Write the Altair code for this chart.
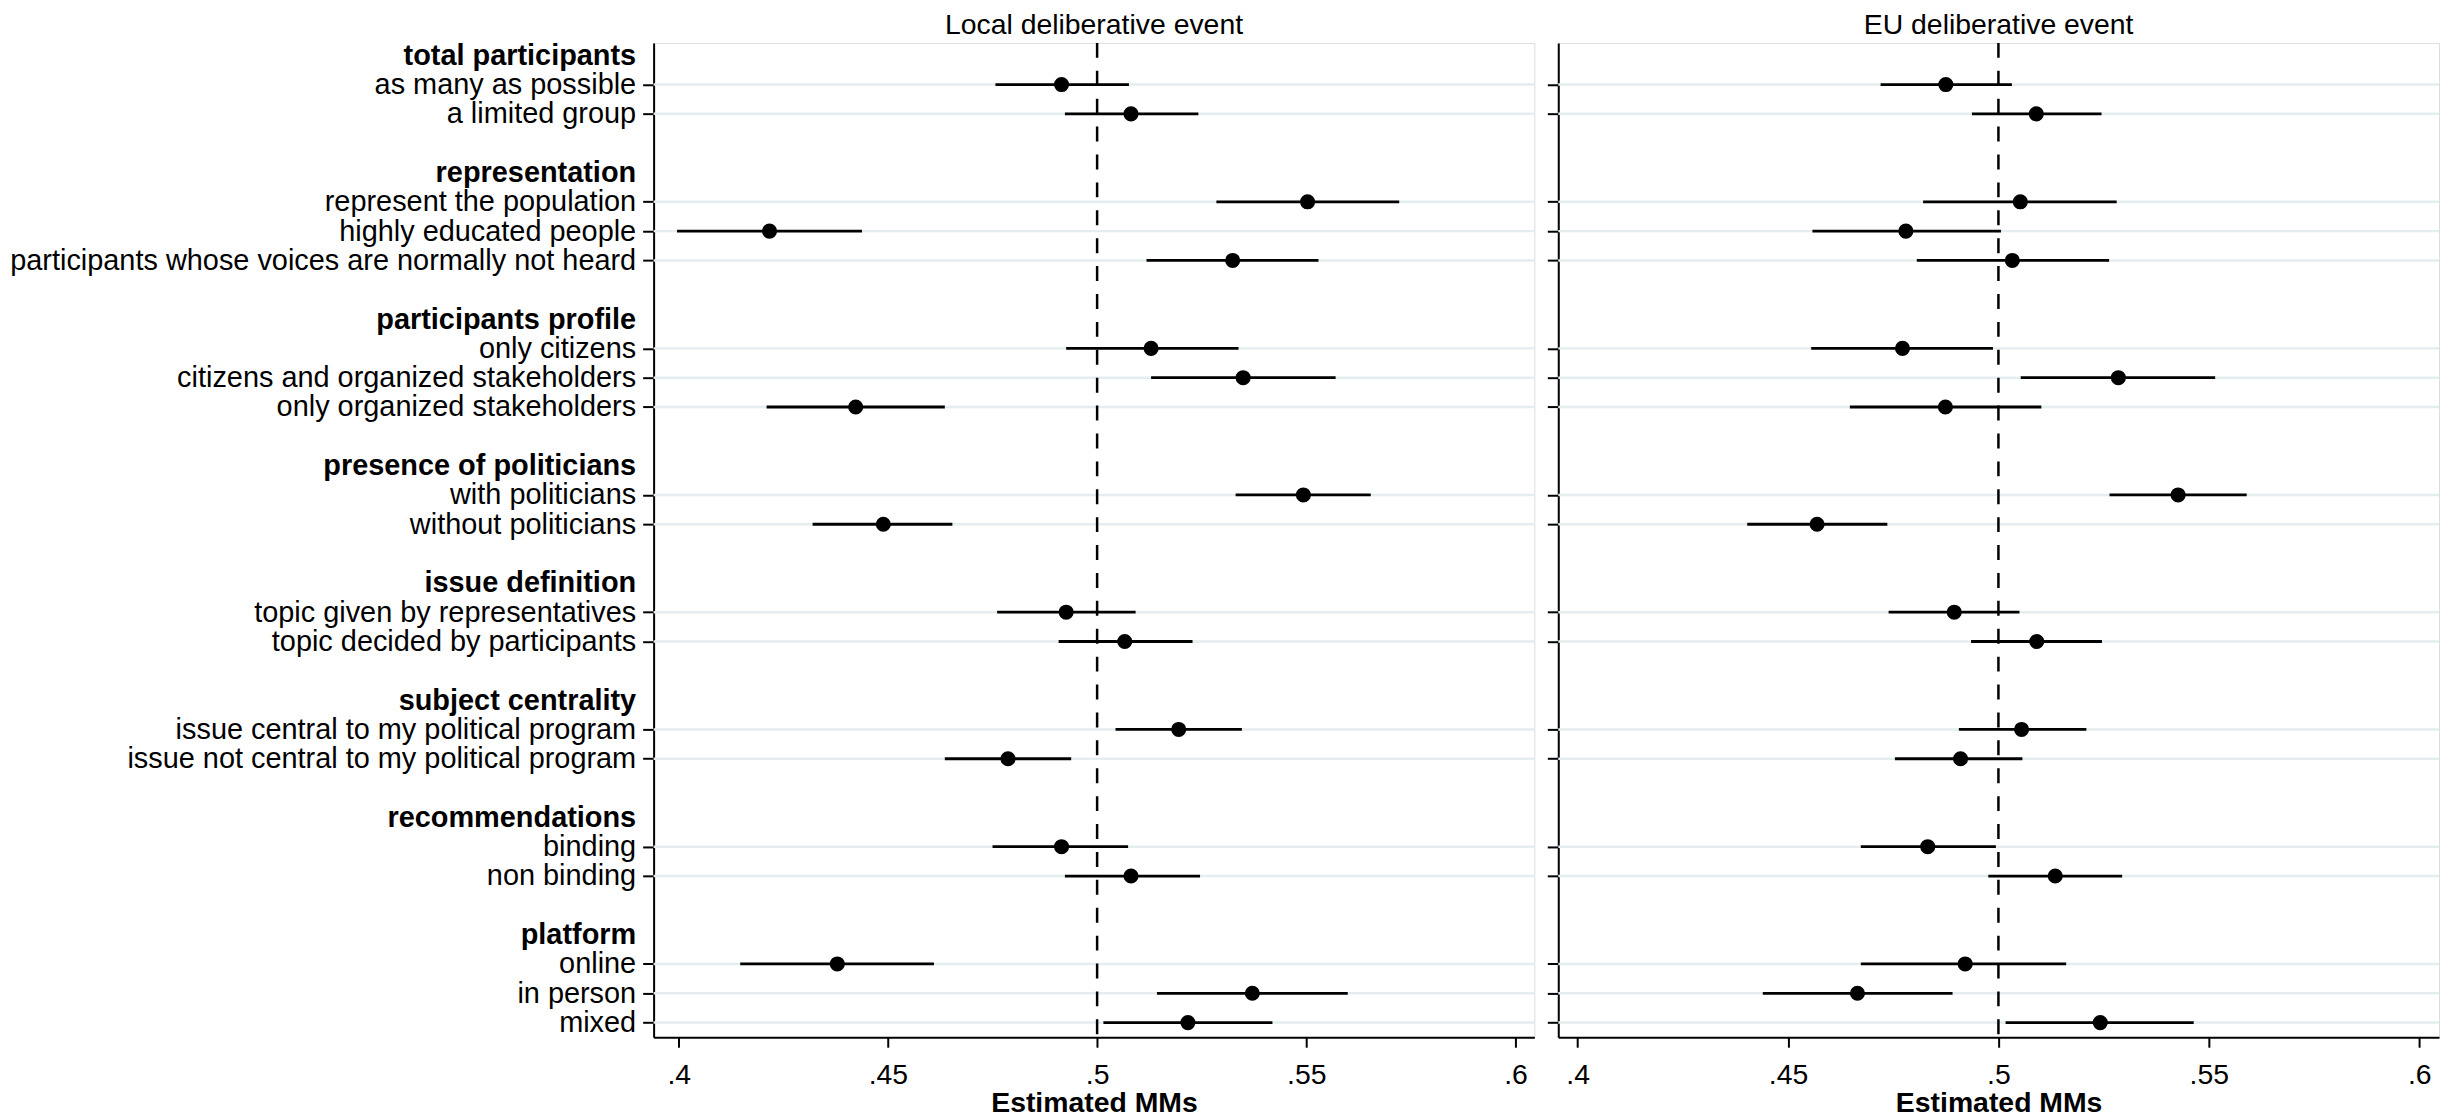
import json
import altair as alt
import pandas as pd

# ---------------- data ----------------
attributes = ["total participants", "representation", "participants profile",
              "presence of politicians", "issue definition", "subject centrality",
              "recommendations", "platform"]
levels = [
    ["as many as possible", "a limited group"],
    ["represent the population", "highly educated people",
     "participants whose voices are normally not heard"],
    ["only citizens", "citizens and organized stakeholders", "only organized stakeholders"],
    ["with politicians", "without politicians"],
    ["topic given by representatives", "topic decided by participants"],
    ["issue central to my political program", "issue not central to my political program"],
    ["binding", "non binding"],
    ["online", "in person", "mixed"],
]

local_mm = [0.4915, 0.5081, 0.5503, 0.4217, 0.5324, 0.5129, 0.5349, 0.4423, 0.5493, 0.4489,
            0.4926, 0.5066, 0.5195, 0.4787, 0.4915, 0.5081, 0.4379, 0.5371, 0.5217]
local_lo = [0.4757, 0.4923, 0.5285, 0.3996, 0.5118, 0.4926, 0.5129, 0.4210, 0.5331, 0.4320,
            0.4761, 0.4908, 0.5044, 0.4636, 0.4750, 0.4923, 0.4147, 0.5143, 0.5015]
local_hi = [0.5076, 0.5242, 0.5722, 0.4438, 0.5529, 0.5338, 0.5570, 0.4636, 0.5654, 0.4654,
            0.5092, 0.5228, 0.5346, 0.4938, 0.5074, 0.5246, 0.4610, 0.5599, 0.5419]

eu_mm = [0.4875, 0.5090, 0.5052, 0.4780, 0.5033, 0.4772, 0.5285, 0.4874, 0.5427, 0.4569,
         0.4895, 0.5091, 0.5055, 0.4910, 0.4832, 0.5135, 0.4921, 0.4665, 0.5242]
eu_lo = [0.4720, 0.4937, 0.4821, 0.4558, 0.4806, 0.4555, 0.5053, 0.4647, 0.5264, 0.4403,
         0.4739, 0.4935, 0.4906, 0.4754, 0.4673, 0.4976, 0.4673, 0.4440, 0.5017]
eu_hi = [0.5032, 0.5245, 0.5281, 0.5006, 0.5263, 0.4987, 0.5515, 0.5102, 0.5590, 0.4736,
         0.5050, 0.5246, 0.5209, 0.5057, 0.4994, 0.5294, 0.5161, 0.4891, 0.5464]

x_ticks = [0.4, 0.45, 0.5, 0.55, 0.6]

# ------------- row layout (headers, levels, spacers) -------------
row_labels, header_rows, level_rows = [], [], []
for g, (att, levs) in enumerate(zip(attributes, levels)):
    if g > 0:
        row_labels.append("")
    header_rows.append(len(row_labels))
    row_labels.append(att)
    for lv in levs:
        level_rows.append(len(row_labels))
        row_labels.append(lv)

axis_values = sorted(header_rows + level_rows)
label_expr = json.dumps(row_labels) + "[datum.value]"
hdr_test = "indexof(" + json.dumps(header_rows) + ", datum.value) >= 0"

FONT = "Liberation Sans"
FS = 28.5

grid_df = pd.DataFrame({"row": level_rows})
ref_df = pd.DataFrame({"x": [0.5]})


def panel(title, mm, lo, hi, show_labels, xdom):
    df = pd.DataFrame({"row": level_rows, "mm": mm, "lo": lo, "hi": hi})
    yscale = alt.Scale(domain=[-0.42, 33.5], reverse=True, nice=False, zero=False)
    yaxis = alt.Axis(
        values=axis_values, labelExpr=label_expr, labels=show_labels,
        labelFont=FONT, labelFontSize=29, labelColor="black", labelLimit=0,
        labelFontWeight={"condition": {"test": hdr_test, "value": "bold"}, "value": "normal"},
        tickOpacity={"condition": {"test": hdr_test, "value": 0}, "value": 1},
        labelPadding=7, tickSize=11, tickWidth=2, tickColor="black",
        domainColor="black", domainWidth=2, grid=False, title=None,
    )
    xscale = alt.Scale(domain=xdom, nice=False, zero=False)
    xaxis = alt.Axis(
        values=x_ticks, labelExpr="substring(format(datum.value, '.2~f'), 1)",
        labelFont=FONT, labelFontSize=FS, labelColor="black", labelPadding=13,
        labelOverlap=False, labelFlush=False,
        tickSize=10, tickWidth=2, tickColor="black",
        domainColor="black", domainWidth=2, grid=False,
        titleFont=FONT, titleFontSize=FS, titleFontWeight="bold", titleColor="black",
        titlePadding=0,
    )

    def Y():
        return alt.Y("row:Q", scale=yscale, axis=yaxis)

    def X(field):
        return alt.X(field, type="quantitative", scale=xscale, axis=xaxis, title="Estimated MMs")

    grid = alt.Chart(grid_df).mark_rule(color="#e4edef", strokeWidth=2.5).encode(y=Y())
    ref = alt.Chart(ref_df).mark_rule(color="black", strokeWidth=2.5,
                                      strokeDash=[15, 13]).encode(x=X("x"))
    bars = alt.Chart(df).mark_rule(color="black", strokeWidth=2.8).encode(
        x=X("lo"), x2="hi", y=Y())
    pts = alt.Chart(df).mark_circle(color="black", opacity=1, size=230).encode(
        x=X("mm"), y=Y())
    return alt.layer(grid, ref, bars, pts).properties(
        width=884, height=998,
        title=alt.TitleParams(title, font=FONT, fontSize=FS, fontWeight="normal",
                              color="black", anchor="middle", offset=2),
    )


left = panel("Local deliberative event", local_mm, local_lo, local_hi, True, [0.394, 0.6045])
right = panel("EU deliberative event", eu_mm, eu_lo, eu_hi, False, [0.3954, 0.6047])

chart = alt.hconcat(left, right, spacing=9).properties(
    padding={"left": 0, "top": 0, "right": 0, "bottom": 0}
).configure_view(stroke=None).configure(background="white")

chart.save("out.html", embed_options={"renderer": "svg", "actions": False})
